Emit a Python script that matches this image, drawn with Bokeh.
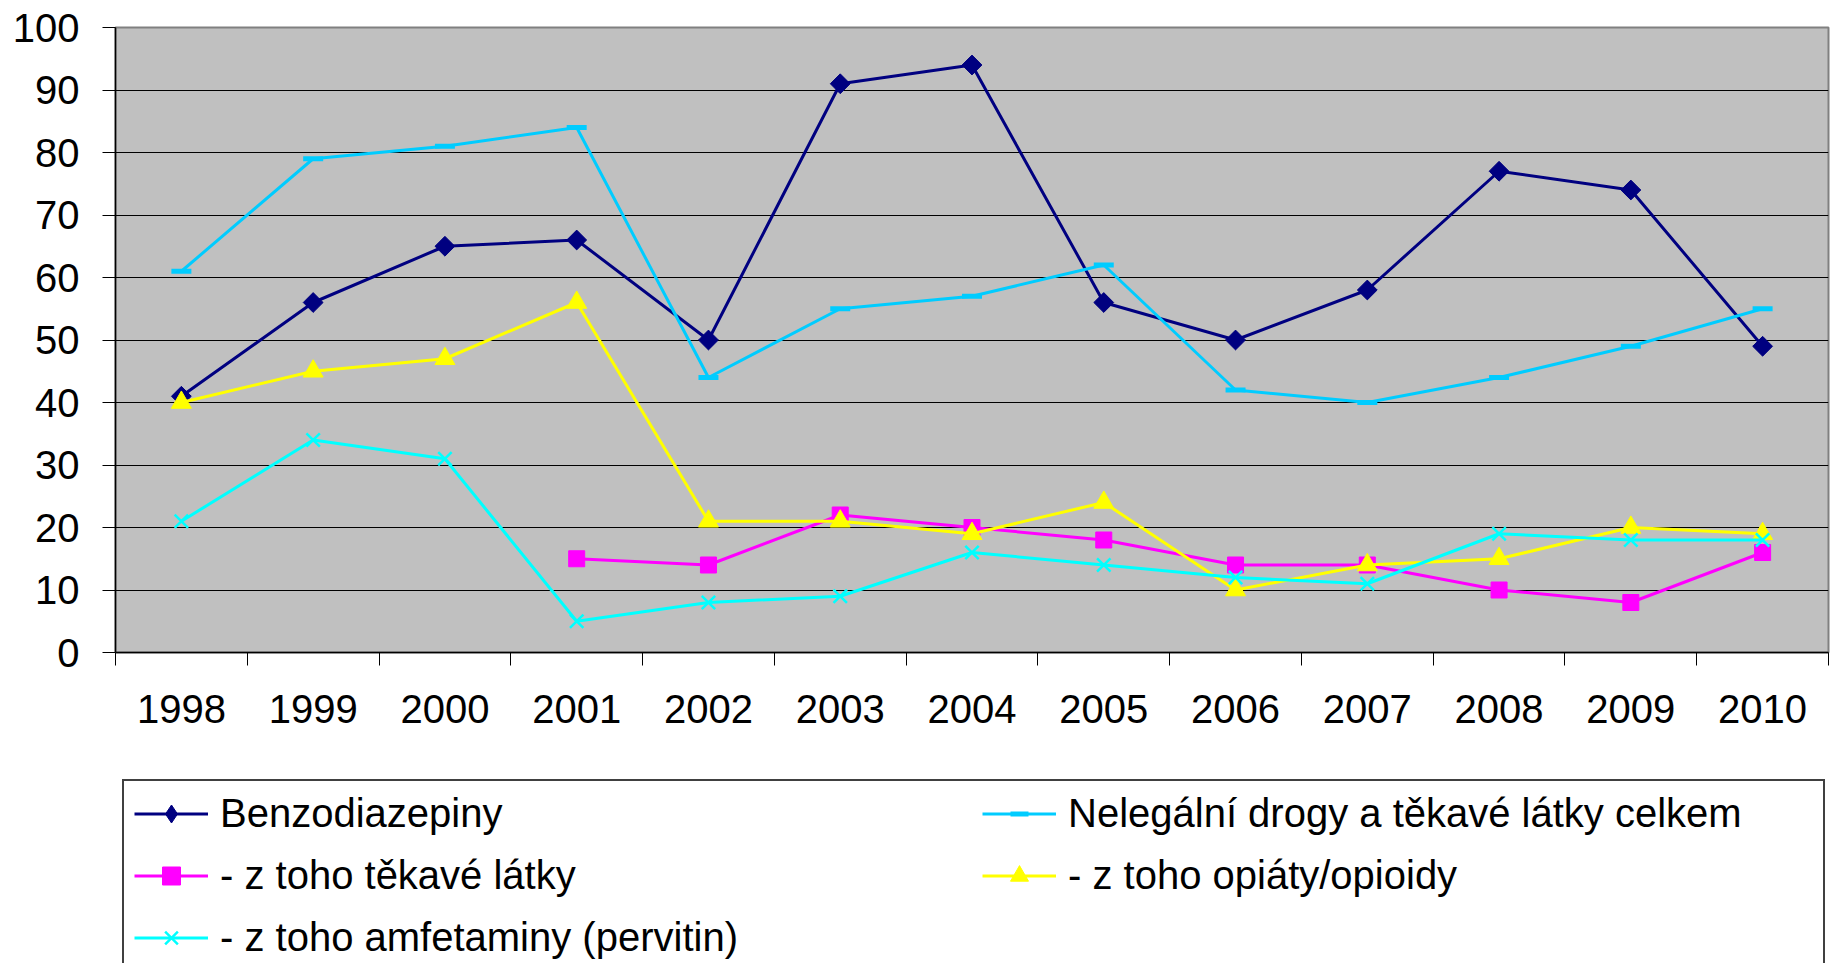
import numpy as np
from bokeh.plotting import figure
from bokeh.layouts import column
from bokeh.models import (Range1d, FixedTicker, CustomJSTickFormatter, Legend,
                          LegendItem, ColumnDataSource)
from bokeh.embed import file_html
from bokeh.resources import INLINE

years = ["1998", "1999", "2000", "2001", "2002", "2003", "2004",
         "2005", "2006", "2007", "2008", "2009", "2010"]
benzodiazepiny = [41, 56, 65, 66, 50, 91, 94, 56, 50, 58, 77, 74, 49]
nelegalni = [61, 79, 81, 84, 44, 55, 57, 62, 42, 40, 44, 49, 55]
tekave = [np.nan, np.nan, np.nan, 15, 14, 22, 20, 18, 14, 14, 10, 8, 16]
opiaty = [40, 45, 47, 56, 21, 21, 19, 24, 10, 14, 15, 20, 19]
amfetaminy = [21, 34, 31, 5, 8, 9, 16, 14, 12, 11, 19, 18, 18]

labels = ["Benzodiazepiny", "Nelegální drogy a těkavé látky celkem",
          "- z toho těkavé látky", "- z toho opiáty/opioidy",
          "- z toho amfetaminy (pervitin)"]

xs = [i + 0.5 for i in range(len(years))]
src = ColumnDataSource(dict(x=xs, benzo=benzodiazepiny, neleg=nelegalni,
                            tek=tekave, opi=opiaty, amf=amfetaminy))

FONT = "Liberation Sans"
LW = 3
c_benzo, c_neleg, c_tek, c_opi, c_amf = "#000080", "#00CCFF", "#FF00FF", "#FFFF00", "#00FFFF"

TOP_H = 760
p = figure(width=1831, height=TOP_H, output_backend="svg", toolbar_location=None,
           title=None,
           x_range=Range1d(0, len(years)), y_range=Range1d(0, 100),
           min_border_left=115, min_border_right=3, min_border_top=27,
           min_border_bottom=TOP_H - 652)

p.background_fill_color = "#C0C0C0"
p.border_fill_color = "white"
p.outline_line_color = "#808080"
p.outline_line_width = 2

p.xgrid.visible = False
p.ygrid.ticker = FixedTicker(ticks=list(range(10, 100, 10)))
p.ygrid.grid_line_color = "black"
p.ygrid.grid_line_width = 1

# y axis
p.yaxis.ticker = FixedTicker(ticks=list(range(0, 101, 10)))
p.yaxis.major_tick_out = 13
p.yaxis.major_tick_in = 0
p.yaxis.minor_tick_line_color = None
p.yaxis.axis_line_color = "black"
p.yaxis.axis_line_width = 1.5
p.yaxis.major_tick_line_color = "black"
p.yaxis.major_label_text_font = FONT
p.yaxis.major_label_text_font_size = "40px"
p.yaxis.major_label_text_color = "black"
p.yaxis.major_label_standoff = 23

# x axis
p.xaxis.ticker = FixedTicker(ticks=xs, minor_ticks=list(range(0, len(years) + 1)))
p.xaxis.formatter = CustomJSTickFormatter(args=dict(labels=years),
                                          code="return labels[Math.floor(tick)]")
p.xaxis.major_tick_out = 0
p.xaxis.major_tick_in = 0
p.xaxis.minor_tick_out = 13
p.xaxis.minor_tick_in = 0
p.xaxis.minor_tick_line_color = "black"
p.xaxis.minor_tick_line_width = 1
p.xaxis.axis_line_color = "black"
p.xaxis.axis_line_width = 1.5
p.xaxis.major_label_text_font = FONT
p.xaxis.major_label_text_font_size = "40px"
p.xaxis.major_label_text_color = "black"
p.xaxis.major_label_standoff = 29

# main chart (series drawn in Excel order: later series on top)
p.line("x", "benzo", source=src, line_color=c_benzo, line_width=LW)
p.scatter("x", "benzo", source=src, marker="square", angle=np.pi / 4, size=14,
          fill_color=c_benzo, line_color=c_benzo)
p.line("x", "neleg", source=src, line_color=c_neleg, line_width=LW)
p.scatter("x", "neleg", source=src, marker="dash", size=20,
          line_color=c_neleg, line_width=5)
p.line("x", "tek", source=src, line_color=c_tek, line_width=LW)
p.scatter("x", "tek", source=src, marker="square", size=16,
          fill_color=c_tek, line_color=c_tek)
p.line("x", "opi", source=src, line_color=c_opi, line_width=LW)
p.scatter("x", "opi", source=src, marker="triangle", size=20,
          fill_color=c_opi, line_color=c_opi)
p.line("x", "amf", source=src, line_color=c_amf, line_width=LW)
p.scatter("x", "amf", source=src, marker="x", size=19,
          line_color=c_amf, line_width=2.5)

# legend panel: a second figure below the chart; its renderers use the same
# data but the view range keeps them out of sight, they only supply swatches
LEG_H = 963 - TOP_H
q = figure(width=1831, height=LEG_H, output_backend="svg", toolbar_location=None,
           title=None, x_range=Range1d(0, len(years)), y_range=Range1d(1000, 1001),
           x_axis_location=None, y_axis_location=None,
           min_border_left=0, min_border_right=0, min_border_top=0,
           min_border_bottom=0)
q.grid.visible = False
q.outline_line_color = None
q.background_fill_color = "white"
q.border_fill_color = "white"

ql1 = q.line("x", "benzo", source=src, line_color=c_benzo, line_width=LW)
qs1 = q.scatter("x", "benzo", source=src, marker="diamond", size=18,
                fill_color=c_benzo, line_color=c_benzo)
ql2 = q.line("x", "neleg", source=src, line_color=c_neleg, line_width=LW)
qs2 = q.scatter("x", "neleg", source=src, marker="dash", size=19,
                line_color=c_neleg, line_width=5)
ql3 = q.line("x", "tek", source=src, line_color=c_tek, line_width=LW)
qs3 = q.scatter("x", "tek", source=src, marker="square", size=15,
                fill_color=c_tek, line_color=c_tek)
ql4 = q.line("x", "opi", source=src, line_color=c_opi, line_width=LW)
qs4 = q.scatter("x", "opi", source=src, marker="triangle", size=19,
                fill_color=c_opi, line_color=c_opi)
ql5 = q.line("x", "amf", source=src, line_color=c_amf, line_width=LW)
qs5 = q.scatter("x", "amf", source=src, marker="x", size=18,
                line_color=c_amf, line_width=2.5)

items = [
    LegendItem(label=labels[0], renderers=[ql1, qs1]),
    LegendItem(label=labels[1], renderers=[ql2, qs2]),
    LegendItem(label=labels[2], renderers=[ql3, qs3]),
    LegendItem(label=labels[3], renderers=[ql4, qs4]),
    LegendItem(label=labels[4], renderers=[ql5, qs5]),
]
legend = Legend(items=items, location=(7, -8.5), orientation="horizontal", ncols=2,
                border_line_color="#404040", border_line_width=2, border_line_alpha=1,
                background_fill_color="white", background_fill_alpha=1,
                padding=10, margin=0,
                spacing=17, glyph_width=74, glyph_height=45, label_height=45,
                label_width=745, label_standoff=12,
                label_text_font=FONT, label_text_font_size="40px",
                label_text_color="black")
q.add_layout(legend, "center")

layout = column(p, q, spacing=0)
open("out.html", "w").write(file_html(layout, INLINE))
